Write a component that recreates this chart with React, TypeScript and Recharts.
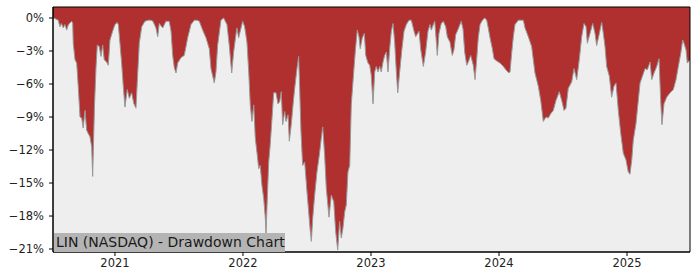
import React from "react";
import { AreaChart, Area, XAxis, YAxis, ReferenceArea } from "recharts";

// Dates as fractional years
const dates = [
  2020.516, 2020.523, 2020.539, 2020.557, 2020.570, 2020.582, 2020.596, 2020.609, 2020.623, 2020.633,
  2020.643, 2020.662, 2020.670, 2020.674, 2020.688, 2020.701, 2020.713, 2020.727, 2020.740, 2020.752,
  2020.766, 2020.779, 2020.791, 2020.805, 2020.818, 2020.826, 2020.840, 2020.852, 2020.862, 2020.877,
  2020.891, 2020.904, 2020.916, 2020.935, 2020.948, 2020.961, 2020.982, 2021.000, 2021.018, 2021.026,
  2021.039, 2021.052, 2021.065, 2021.078, 2021.096, 2021.112, 2021.130, 2021.148, 2021.164, 2021.174,
  2021.190, 2021.209, 2021.234, 2021.260, 2021.281, 2021.297, 2021.320, 2021.334, 2021.346, 2021.373,
  2021.398, 2021.424, 2021.438, 2021.451, 2021.463, 2021.477, 2021.490, 2021.516, 2021.541, 2021.555,
  2021.568, 2021.594, 2021.620, 2021.641, 2021.659, 2021.685, 2021.711, 2021.737, 2021.750, 2021.776,
  2021.789, 2021.802, 2021.828, 2021.849, 2021.875, 2021.893, 2021.912, 2021.927, 2021.945, 2021.953,
  2021.966, 2021.987, 2021.998, 2022.013, 2022.031, 2022.045, 2022.057, 2022.070, 2022.084, 2022.096,
  2022.109, 2022.123, 2022.135, 2022.148, 2022.162, 2022.174, 2022.180, 2022.188, 2022.201, 2022.213,
  2022.227, 2022.240, 2022.258, 2022.273, 2022.287, 2022.299, 2022.310, 2022.326, 2022.336, 2022.352,
  2022.362, 2022.377, 2022.391, 2022.404, 2022.422, 2022.435, 2022.443, 2022.453, 2022.466, 2022.482,
  2022.500, 2022.513, 2022.526, 2022.534, 2022.545, 2022.560, 2022.578, 2022.596, 2022.612, 2022.623,
  2022.638, 2022.651, 2022.672, 2022.690, 2022.709, 2022.724, 2022.740, 2022.755, 2022.768, 2022.781,
  2022.795, 2022.807, 2022.820, 2022.834, 2022.846, 2022.865, 2022.877, 2022.893, 2022.906, 2022.916,
  2022.932, 2022.948, 2022.959, 2022.977, 2022.990, 2023.002, 2023.016, 2023.029, 2023.041, 2023.055,
  2023.068, 2023.080, 2023.094, 2023.107, 2023.120, 2023.133, 2023.146, 2023.159, 2023.172, 2023.185,
  2023.198, 2023.209, 2023.224, 2023.242, 2023.258, 2023.276, 2023.297, 2023.315, 2023.334, 2023.349,
  2023.359, 2023.375, 2023.388, 2023.409, 2023.427, 2023.445, 2023.461, 2023.471, 2023.487, 2023.498,
  2023.508, 2023.518, 2023.531, 2023.549, 2023.565, 2023.584, 2023.596, 2023.617, 2023.635, 2023.648,
  2023.662, 2023.674, 2023.688, 2023.705, 2023.719, 2023.732, 2023.748, 2023.760, 2023.779, 2023.799,
  2023.813, 2023.826, 2023.838, 2023.852, 2023.870, 2023.888, 2023.904, 2023.916, 2023.930, 2023.948,
  2023.961, 2023.982, 2024.008, 2024.034, 2024.060, 2024.078, 2024.086, 2024.099, 2024.112, 2024.125,
  2024.151, 2024.190, 2024.203, 2024.229, 2024.255, 2024.281, 2024.307, 2024.326, 2024.346, 2024.367,
  2024.385, 2024.404, 2024.424, 2024.445, 2024.471, 2024.490, 2024.508, 2024.523, 2024.541, 2024.568,
  2024.586, 2024.607, 2024.627, 2024.646, 2024.664, 2024.680, 2024.690, 2024.711, 2024.732, 2024.750,
  2024.763, 2024.784, 2024.802, 2024.815, 2024.828, 2024.841, 2024.862, 2024.880, 2024.898, 2024.914,
  2024.932, 2024.951, 2024.971, 2024.992, 2025.010, 2025.023, 2025.037, 2025.049, 2025.070, 2025.088,
  2025.102, 2025.123, 2025.141, 2025.159, 2025.180, 2025.193, 2025.211, 2025.232, 2025.250, 2025.263,
  2025.273, 2025.289, 2025.310, 2025.336, 2025.362, 2025.383, 2025.401, 2025.420, 2025.435, 2025.445,
  2025.461, 2025.471, 2025.492,
];

// Drawdown in percent
const drawdown = [
  0, 0, -0.1, -0.2, -0.8, -0.5, -0.9, -0.6, -1.1, -0.7,
  -0.5, -0.3, -0.5, -2.3, -3.8, -4.1, -6.2, -9.0, -9.1, -10.0,
  -8.4, -10.2, -10.5, -10.8, -11.7, -14.4, -8.0, -4.5, -2.45, -2.6,
  -3.5, -2.45, -3.8, -4.0, -4.3, -2.0, -1.2, -0.6, -0.4, -0.6,
  -2.3, -4.1, -6.2, -8.1, -6.5, -7.3, -6.8, -7.8, -8.2, -5.9,
  -2.3, -0.8, -0.3, -0.2, -0.2, -0.3, -0.9, -1.7, -0.5, -0.9,
  -0.3, -0.3, -1.2, -3.4, -4.5, -5.0, -4.1, -3.6, -3.4, -2.6,
  -1.8, -0.6, -0.2, -0.2, -0.3, -1.1, -1.8, -2.8, -4.6, -5.9,
  -4.9, -2.5, -0.2, 0, -0.6, -2.5, -5.0, -3.1, -1.5, -0.9,
  -1.8, -0.8, -0.3, -0.8, -2.2, -4.9, -7.9, -9.4, -7.9, -10.9,
  -12.2, -13.7, -13.4, -15.2, -16.4, -18.1, -19.7, -17.0, -13.1, -11.5,
  -9.1, -6.8, -6.8, -7.8, -7.6, -6.7, -9.7, -8.5, -9.4, -8.8,
  -11.2, -9.7, -7.9, -6.4, -4.6, -3.5, -6.4, -10.3, -13.4, -13.1,
  -15.8, -17.6, -19.4, -20.3, -18.2, -16.1, -14.0, -12.5, -10.9, -9.9,
  -12.5, -15.5, -18.1, -16.1, -16.7, -19.4, -21.1, -18.5, -20.0, -19.1,
  -17.6, -17.0, -14.0, -13.4, -7.9, -4.9, -3.1, -1.1, -1.7, -2.8,
  -1.8, -1.4, -3.4, -4.1, -4.3, -5.2, -7.8, -4.9, -4.4, -4.9,
  -4.4, -4.9, -4.0, -3.4, -3.1, -4.9, -2.8, -1.2, -0.5, -2.2,
  -4.9, -6.8, -4.9, -2.8, -1.2, -0.6, -0.2, -0.2, -1.1, -1.7,
  -1.5, -1.2, -2.8, -4.4, -3.1, -1.2, -0.6, -1.1, -0.6, -0.3,
  -1.8, -3.4, -1.4, -0.5, -0.3, -0.8, -1.7, -2.2, -3.4, -2.9,
  -1.5, -1.2, -0.8, -0.3, -1.0, -3.1, -4.3, -4.0, -3.4, -4.3,
  -5.6, -3.7, -1.8, -0.6, -0.2, 0, -0.2, -0.9, -1.8, -2.8,
  -3.7, -3.9, -4.1, -4.4, -4.8, -5.0, -4.9, -3.2, -1.7, -0.6,
  -0.2, -0.2, -0.9, -1.7, -2.6, -5.0, -6.2, -7.5, -9.4, -9.0,
  -9.1, -8.7, -8.4, -7.5, -6.7, -7.5, -8.4, -8.2, -6.4, -5.8,
  -4.6, -5.6, -3.8, -1.7, -0.5, -0.8, -2.3, -1.4, -0.5, -1.4,
  -2.5, -1.4, -0.4, -1.4, -2.6, -4.4, -5.3, -7.2, -6.2, -5.9,
  -8.4, -10.5, -12.3, -12.9, -14.0, -14.2, -12.9, -11.1, -9.6, -7.5,
  -5.9, -5.2, -4.6, -4.7, -4.0, -5.6, -5.0, -4.4, -3.7, -7.5,
  -9.7, -7.8, -7.2, -6.8, -6.5, -5.6, -4.4, -3.2, -2.0, -2.3,
  -2.9, -4.1, -3.8,
];

const xTicks = [2021, 2022, 2023, 2024, 2025];
const yTicks = [0, -3, -6, -9, -12, -15, -18, -21];
const title = "LIN (NASDAQ) - Drawdown Chart";

const X_MIN = 2020.516;
const X_MAX = 2025.492;
const Y_MIN = -21.27;
const Y_MAX = 1;

const data = dates.map((t, i) => ({ t, dd: drawdown[i] }));

const fmtY = (v: number) => (v < 0 ? "\u2212" + Math.abs(v) + "%" : v + "%");

export default function App() {
  const font = "DejaVu Sans, sans-serif";
  return (
    <div style={{ position: "absolute", left: 0, top: 0, width: 700, height: 280, background: "#fff" }}>
      <AreaChart
        width={700}
        height={280}
        data={data}
        margin={{ top: 7, right: 10, bottom: 0, left: 0 }}
      >
        <XAxis
          dataKey="t"
          type="number"
          domain={[X_MIN, X_MAX]}
          ticks={xTicks}
          allowDataOverflow
          height={28}
          tickSize={4}
          tickMargin={3}
          stroke="#000"
          tick={{ fill: "#222", fontSize: 11.5, fontFamily: font }}
          tickFormatter={(v: number) => String(Math.round(v))}
        />
        <YAxis
          type="number"
          domain={[Y_MIN, Y_MAX]}
          ticks={yTicks}
          allowDataOverflow
          width={53}
          tickSize={4}
          tickMargin={5}
          stroke="#000"
          tick={{ fill: "#222", fontSize: 11.5, fontFamily: font }}
          tickFormatter={fmtY}
        />
        <ReferenceArea x1={X_MIN} x2={X_MAX} y1={Y_MIN} y2={Y_MAX} fill="#eeeeee" fillOpacity={1} stroke="none" ifOverflow="visible" />
        <Area
          type="linear"
          dataKey="dd"
          baseValue={Y_MAX}
          fill="#b03030"
          fillOpacity={1}
          stroke="#999999"
          strokeWidth={1}
          dot={false}
          activeDot={false}
          isAnimationActive={false}
        />
        <ReferenceArea x1={X_MIN} x2={X_MAX} y1={Y_MIN} y2={Y_MAX} fill="none" stroke="#000" strokeWidth={1} ifOverflow="visible" />
      </AreaChart>
      <div
        style={{
          position: "absolute",
          left: 54,
          top: 233,
          width: 231,
          height: 19,
          background: "#b4b4b4",
          color: "#1a1a1a",
          fontFamily: font,
          fontSize: 14,
          lineHeight: "19px",
          paddingLeft: 2,
          boxSizing: "border-box",
          whiteSpace: "nowrap",
        }}
      >
        {title}
      </div>
    </div>
  );
}
